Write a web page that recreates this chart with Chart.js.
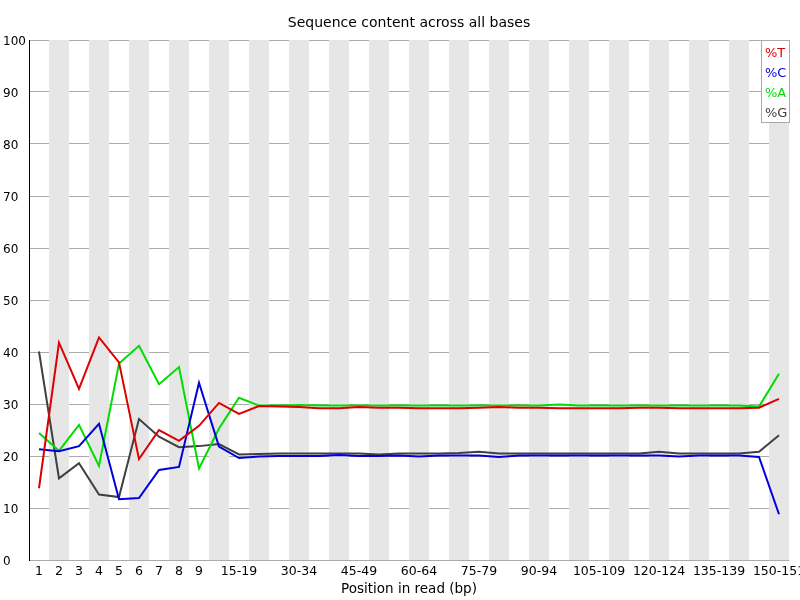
<!DOCTYPE html>
<html>
<head>
<meta charset="utf-8">
<script src="https://cdn.jsdelivr.net/npm/chart.js@4"></script>
<style>
  body { margin: 0; background: #fff; }
  #wrap { width: 800px; height: 600px; }
</style>
</head>
<body>
<div id="wrap"><canvas id="myChart"></canvas></div>
<script>
const positions = ["1","2","3","4","5","6","7","8","9",
  "10-14","15-19","20-24","25-29","30-34","35-39","40-44","45-49","50-54","55-59",
  "60-64","65-69","70-74","75-79","80-84","85-89","90-94","95-99","100-104","105-109",
  "110-114","115-119","120-124","125-129","130-134","135-139","140-144","145-149","150-151"];

const pctT = [13.8, 41.8, 32.9, 42.8, 38.0, 19.4, 25.0, 22.9, 25.8, 30.2, 28.1, 29.6,
  29.5, 29.4, 29.2, 29.2, 29.4, 29.3, 29.3, 29.2, 29.2, 29.2, 29.3, 29.4, 29.3, 29.3,
  29.2, 29.2, 29.2, 29.2, 29.3, 29.3, 29.2, 29.2, 29.2, 29.2, 29.3, 31.0];
const pctC = [21.3, 20.9, 21.9, 26.2, 11.7, 11.9, 17.3, 17.9, 34.1, 21.8, 19.6, 19.9,
  20.0, 20.0, 20.0, 20.2, 20.0, 20.0, 20.1, 19.9, 20.1, 20.1, 20.1, 19.8, 20.1, 20.1,
  20.1, 20.1, 20.1, 20.1, 20.1, 20.1, 19.9, 20.1, 20.1, 20.1, 19.8, 8.8];
const pctA = [24.4, 21.0, 26.0, 18.1, 37.8, 41.2, 33.8, 37.1, 17.6, 25.3, 31.2, 29.7,
  29.7, 29.8, 29.7, 29.7, 29.7, 29.7, 29.7, 29.7, 29.7, 29.7, 29.7, 29.7, 29.7, 29.7,
  29.9, 29.7, 29.7, 29.7, 29.7, 29.7, 29.7, 29.7, 29.7, 29.7, 29.5, 35.8];
const pctG = [40.1, 15.7, 18.6, 12.6, 12.1, 27.1, 23.7, 21.7, 21.9, 22.3, 20.3, 20.4,
  20.5, 20.5, 20.5, 20.5, 20.5, 20.3, 20.5, 20.5, 20.5, 20.6, 20.8, 20.5, 20.5, 20.5,
  20.5, 20.5, 20.5, 20.5, 20.5, 20.8, 20.5, 20.5, 20.5, 20.5, 20.8, 24.0];

const yTicks = [0, 10, 20, 30, 40, 50, 60, 70, 80, 90, 100];

const chartTitle = "Sequence content across all bases";
const colT = "#dd0000", colC = "#0000dd", colA = "#00dd00", colG = "#404040";

// grey stripes behind every other base position
const stripes = {
  id: "stripes",
  beforeDatasetsDraw(chart) {
    const { ctx, chartArea, scales } = chart;
    const x = scales.x;
    const w = x.width / positions.length;
    ctx.save();
    ctx.fillStyle = "#e6e6e6";
    for (let i = 1; i < positions.length; i += 2) {
      const cx = x.getPixelForValue(i);
      ctx.fillRect(cx - w / 2, chartArea.top, w, chartArea.bottom - chartArea.top);
    }
    ctx.restore();
  }
};

// title centred over the plot area, boxed legend in the top right corner
const boxLegend = {
  id: "boxLegend",
  afterDatasetsDraw(chart) {
    const { ctx, chartArea } = chart;
    ctx.save();
    ctx.fillStyle = "#000";
    ctx.font = "14px 'DejaVu Sans'";
    ctx.textAlign = "center";
    ctx.textBaseline = "middle";
    ctx.fillText(chartTitle, (chartArea.left + chartArea.right) / 2, 23);

    const left = chartArea.right - 28, top = chartArea.top;
    ctx.fillStyle = "#fff";
    ctx.fillRect(left, top, 29, 83);
    ctx.strokeStyle = "#aaaaaa";
    ctx.lineWidth = 1;
    ctx.strokeRect(left + 0.5, top + 0.5, 28, 82);
    ctx.font = "13px 'DejaVu Sans'";
    ctx.textAlign = "left";
    chart.data.datasets.forEach((ds, i) => {
      ctx.fillStyle = ds.borderColor;
      ctx.fillText(ds.label, left + 4, top + 14 + i * 20);
    });
    ctx.restore();
  }
};

const ctx = document.getElementById("myChart").getContext("2d");
new Chart(ctx, {
  type: "line",
  data: {
    labels: positions,
    datasets: [
      { label: "%T", data: pctT, borderColor: colT },
      { label: "%C", data: pctC, borderColor: colC },
      { label: "%A", data: pctA, borderColor: colA },
      { label: "%G", data: pctG, borderColor: colG }
    ]
  },
  options: {
    responsive: true,
    maintainAspectRatio: false,
    animation: false,
    devicePixelRatio: 1,
    layout: { padding: { left: 3, right: 11, top: 40, bottom: 0 } },
    elements: {
      line: { borderWidth: 2, tension: 0 },
      point: { radius: 0 }
    },
    plugins: {
      legend: { display: false },
      tooltip: { enabled: false },
      title: { display: false }
    },
    scales: {
      x: {
        offset: true,
        grid: { display: false, drawTicks: false },
        border: { display: false },
        afterFit: (s) => { s.height = 40; s.paddingLeft = 0; s.paddingRight = 0; },
        ticks: {
          autoSkip: false,
          maxRotation: 0,
          padding: 4,
          color: "#000",
          font: { family: "'DejaVu Sans'", size: 12.5 },
          callback: function (v, i) {
            if (i < 9 || (i >= 10 && (i - 10) % 3 === 0)) return positions[i];
            return "";
          }
        },
        title: {
          display: true,
          text: "Position in read (bp)",
          color: "#000",
          font: { family: "'DejaVu Sans'", size: 13.5 },
          padding: { top: 0, bottom: 2 }
        }
      },
      y: {
        min: 0,
        max: 100,
        afterFit: (s) => { s.width = 26; s.paddingTop = 0; s.paddingBottom = 0; },
        afterBuildTicks: (s) => { s.ticks = yTicks.map((v) => ({ value: v })); },
        grid: { color: "#aaaaaa", drawTicks: false },
        border: { color: "#000", width: 1 },
        ticks: {
          crossAlign: "far",
          padding: 4,
          labelOffset: 2,
          color: "#000",
          font: { family: "'DejaVu Sans'", size: 12 }
        }
      }
    }
  },
  plugins: [stripes, boxLegend]
});
</script>
</body>
</html>
